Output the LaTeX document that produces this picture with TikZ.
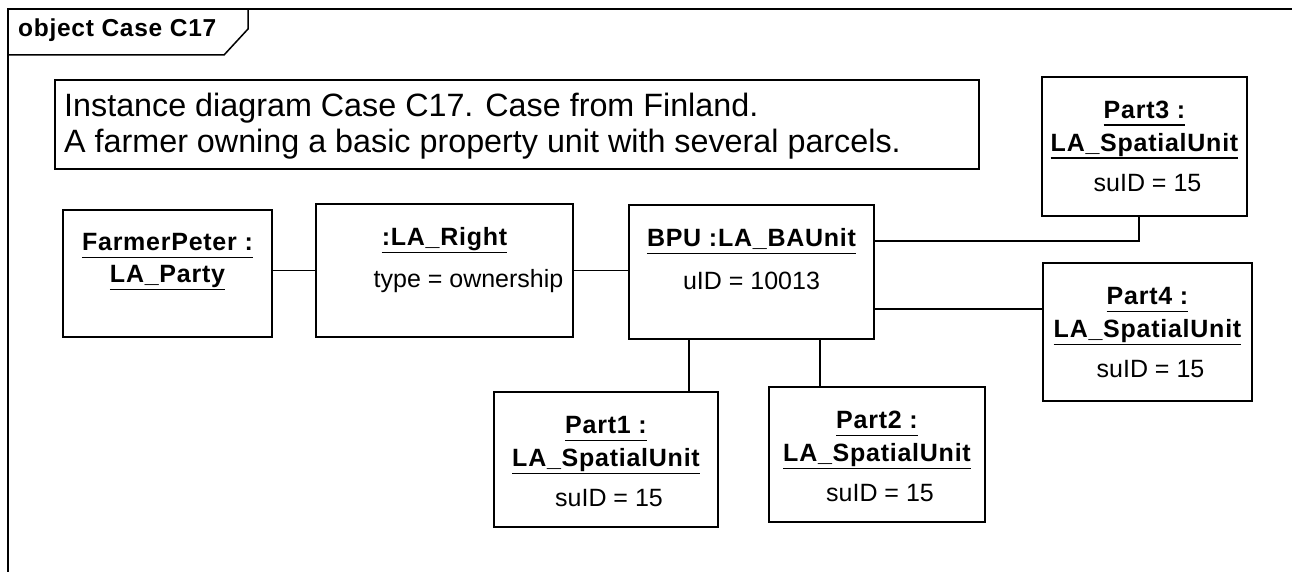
\documentclass[tikz,border=0pt]{standalone}
\usepackage{fontspec}
\setmainfont{Liberation Sans}
\newfontfamily\labfont[LetterSpace=3]{Liberation Sans}
\usetikzlibrary{calc}
\tikzset{
  objbox/.style={draw=black, line width=1.5pt, inner sep=0pt, fill=white},
  nm/.style={font=\labfont\bfseries\fontsize{25}{30}\selectfont, inner sep=0pt, anchor=base},
  attr/.style={font=\fontsize{25}{30}\selectfont, inner sep=0pt, anchor=base},
  notetext/.style={font=\fontsize{32.3}{38}\selectfont, inner sep=0pt, anchor=base west},
  ulin/.style={line width=1.5pt},
  conn/.style={line width=1.5pt},
  framel/.style={line width=1.5pt}
}
\newcommand{\ulname}[1]{\draw[ulin] ([yshift=-7pt]#1.base west) -- ([yshift=-7pt]#1.base east);}
\begin{document}
\begin{tikzpicture}[x=1pt,y=-1pt]
\useasboundingbox (0,0) rectangle (1292,572);
\fill[white] (0,0) rectangle (1292,572);
% frame
\coordinate (ftr) at (1292,9);
\coordinate (ftl) at (8,9);
\coordinate (fbl) at (8,572);
\draw[framel] (ftr) -- (ftl) -- (fbl);
\coordinate (tab1) at (8,55);
\coordinate (tab2) at (224,55);
\coordinate (tab3) at (248,29);
\coordinate (tab4) at (248,9);
\draw[framel] (tab1) -- (tab2) -- (tab3) -- (tab4);
\node[font=\labfont\bfseries\fontsize{24.5}{29}\selectfont, inner sep=0pt, anchor=base west] (title) at (18,37) {object Case C17};

% note
\node[objbox, minimum width=924pt, minimum height=89pt] (note) at (517,124.5) {};
\node[notetext] (nl1) at (64,117) {Instance diagram Case C17. Case from Finland.};
\node[notetext] (nl2) at (64,153) {A farmer owning a basic property unit with several parcels.};

% boxes
\node[objbox, minimum width=209pt, minimum height=127pt] (fp) at (167.5,273.5) {};
\node[objbox, minimum width=257pt, minimum height=133pt] (rt) at (444.5,270.5) {};
\node[objbox, minimum width=245pt, minimum height=134pt] (bpu) at (751.5,272) {};
\node[objbox, minimum width=205pt, minimum height=139pt] (p3) at (1144.5,146.5) {};
\node[objbox, minimum width=209pt, minimum height=138pt] (p4) at (1147.5,332) {};
\node[objbox, minimum width=224pt, minimum height=135pt] (p1) at (606,459.5) {};
\node[objbox, minimum width=216pt, minimum height=135pt] (p2) at (877,454.5) {};

% FarmerPeter
\node[nm] (fpa) at ($(fp.north)+(0,41)$) {FarmerPeter :};
\node[nm] (fpb) at ($(fp.north)+(0,73)$) {LA\_Party};
\ulname{fpa}\ulname{fpb}
% Right
\node[nm] (rta) at ($(rt.north)+(0,42)$) {:LA\_Right};
\ulname{rta}
\node[attr] (rtb) at ($(rt.north)+(24,84)$) {type = ownership};
% BPU
\node[nm] (bpua) at ($(bpu.north)+(0,42)$) {BPU :LA\_BAUnit};
\ulname{bpua}
\node[attr] (bpub) at ($(bpu.north)+(0,85)$) {uID = 10013};
% Parts
\foreach \p/\n in {p1/1,p2/2,p3/3,p4/4}{
  \node[nm] (\p a) at ($(\p.north)+(0,42)$) {Part\n\ :};
  \node[nm] (\p b) at ($(\p.north)+(0,75)$) {LA\_SpatialUnit};
  \ulname{\p a}\ulname{\p b}
  \node[attr] (\p c) at ($(\p.north)+(3,115)$) {suID = 15};
}

% connectors
\draw[conn] (rt.west) -- (rt.west -| fp.east);
\draw[conn] (rt.east) -- (rt.east -| bpu.west);
\coordinate (j3) at (1139,241);
\draw[conn] (bpu.east |- j3) -- (j3) -- (j3 |- p3.south);
\coordinate (j4) at (1000,309);
\draw[conn] (bpu.east |- j4) -- (p4.west |- j4);
\coordinate (j1) at (689,0);
\draw[conn] (j1 |- bpu.south) -- (j1 |- p1.north);
\coordinate (j2) at (820,0);
\draw[conn] (j2 |- bpu.south) -- (j2 |- p2.north);
\end{tikzpicture}
\end{document}
